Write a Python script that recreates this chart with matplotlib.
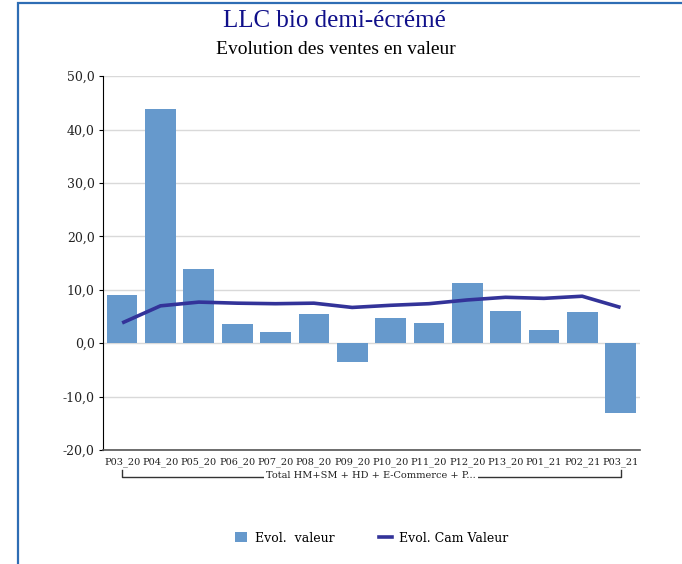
import matplotlib
matplotlib.use('Agg')
import matplotlib.pyplot as plt
import matplotlib.transforms as mtransforms
from matplotlib.patches import Rectangle, Patch
from matplotlib.lines import Line2D
from matplotlib.ticker import FuncFormatter

periods = ['P03_20', 'P04_20', 'P05_20', 'P06_20', 'P07_20', 'P08_20', 'P09_20',
           'P10_20', 'P11_20', 'P12_20', 'P13_20', 'P01_21', 'P02_21', 'P03_21']
evol_valeur = [9.0, 43.9, 13.9, 3.6, 2.1, 5.5, -3.5, 4.8, 3.8, 11.2, 6.1, 2.5, 5.9, -13.1]
evol_cam = [3.8, 7.0, 7.7, 7.5, 7.4, 7.5, 6.7, 7.1, 7.4, 8.1, 8.6, 8.4, 8.8, 6.7]
group_label = 'Total HM+SM + HD + E-Commerce + P...'

BAR_COLOR = '#6699cc'
LINE_COLOR = '#333399'
SERIF = ['DejaVu Serif']
TITLE_FONT = ['Liberation Serif']

fig = plt.figure(figsize=(6.82, 5.64), dpi=100)
ax = fig.add_axes([0.151, 0.202, 0.787, 0.663])

x = list(range(len(periods)))
ax.bar(x, evol_valeur, width=0.8, color=BAR_COLOR, zorder=2)
ax.plot(x, evol_cam, color=LINE_COLOR, lw=2.6, zorder=3, solid_capstyle='butt')

ax.set_xlim(-0.5, len(periods) - 0.5)
ax.set_ylim(-20, 50)
ax.set_yticks(range(-20, 51, 10))
ax.yaxis.set_major_formatter(FuncFormatter(lambda v, _: f'{v:.1f}'.replace('.', ',')))
ax.grid(axis='y', color='#d9d9d9', lw=1, zorder=0)
ax.set_axisbelow(True)
for s in ('top', 'right'):
    ax.spines[s].set_visible(False)
ax.spines['left'].set_color('black')
ax.spines['bottom'].set_color('#555555')
ax.spines['bottom'].set_linewidth(1.2)
ax.tick_params(axis='y', length=3, labelsize=9, pad=3, labelcolor='#222222')
ax.tick_params(axis='x', length=0, labelsize=7, pad=5, labelcolor='#222222')
ax.set_xticks(x)
ax.set_xticklabels(periods, family=SERIF)
for lab in ax.get_yticklabels():
    lab.set_family(SERIF)

# category group bracket under tick labels
trans = mtransforms.blended_transform_factory(ax.transData, fig.transFigure)
yb = 1 - 477 / 564
yt = 1 - 470 / 564
ax.plot([0, 0, len(periods) - 1, len(periods) - 1], [yt, yb, yb, yt],
        transform=trans, color='#333333', lw=1, clip_on=False)
fig.text(0.5 * (len(periods) - 1), yb + 0.002, group_label, transform=trans,
         ha='center', va='center', fontsize=7, family=SERIF, color='#222222',
         bbox=dict(facecolor='white', edgecolor='none', pad=1.5))

# titles
fig.text(0.491, 1 - 21 / 564, 'LLC bio demi-écrémé', ha='center', va='center',
         fontsize=18, color='#10108a', family=TITLE_FONT)
fig.text(0.492, 1 - 50 / 564, 'Evolution des ventes en valeur', ha='center',
         va='center', fontsize=14, color='black', family=TITLE_FONT)

# legend
handles = [Patch(facecolor=BAR_COLOR, edgecolor='none'),
           Line2D([0], [0], color=LINE_COLOR, lw=2.6)]
fig.legend(handles, ['Evol.  valeur', 'Evol. Cam Valeur'], loc='center',
           bbox_to_anchor=(0.545, 1 - 538 / 564), ncol=2, frameon=False,
           prop={'family': SERIF, 'size': 9}, handlelength=1.0,
           handleheight=0.9, columnspacing=3.6, handletextpad=0.6)

# blue frame around the chart
fig.patches.append(Rectangle((18 / 682, -0.1), 1.2, 1 - 3 / 564 + 0.1,
                             transform=fig.transFigure, fill=False,
                             edgecolor='#2e6db4', lw=1.6))

fig.savefig('out.png', dpi=100)
